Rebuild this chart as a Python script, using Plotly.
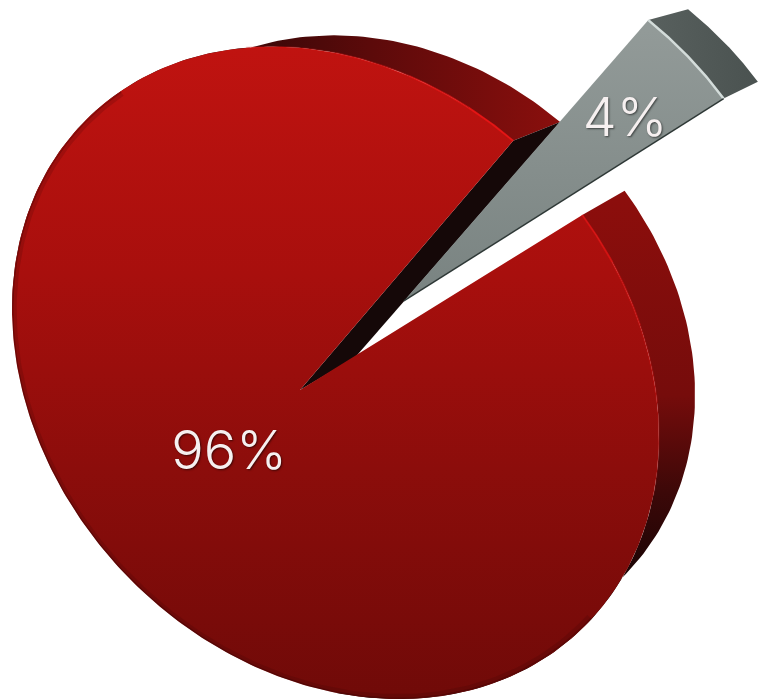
import numpy as np
import plotly.graph_objects as go

# Shares shown on the chart
categories = ["Rest", "Share"]
shares = [96, 4]
labels = ["96%", "4%"]

half_gap = 360.0 * shares[1] / sum(shares) / 2.0

# Calibration of the tilted disc: points along its front rim, its centre,
# the rim point at the upper side of the cut, and the depth vanishing point
rim_x = [240, 167, 133, 100, 67, 40, 22, 13, 12, 15, 33, 67, 100, 133, 167, 200, 233, 283, 340,
         390, 440, 473, 523, 573, 607, 633, 643, 657, 627, 590, 507, 433, 333]
rim_y = [47, 67, 85, 110, 143, 180, 230, 280, 313, 363, 427, 493, 547, 583, 613, 637, 655, 677, 693,
         698, 697, 690, 670, 640, 603, 563, 517, 407, 293, 225, 135, 87, 52]
CENTRE = (300.0, 390.0)
CUT_RIM = (513.0, 141.0)
VANISH = np.array([1166.0, -120.0])
DEPTH = 0.0678
PULL = 0.45


def fit_conic(xs, ys):
    x, y = (np.array(xs, float) - 330) / 330, (np.array(ys, float) - 370) / 330
    A = np.column_stack([x * x, x * y, y * y, x, y, np.ones_like(x)])
    a, b, c, d, e, f = np.linalg.svd(A)[2][-1]
    C = np.array([[a, b / 2, d / 2], [b / 2, c, e / 2], [d / 2, e / 2, f]])
    T = np.array([[1 / 330, 0, -1], [0, 1 / 330, -370 / 330], [0, 0, 1]])
    return T.T @ C @ T


def disc_homography():
    """Homography carrying the unit circle onto the fitted rim, centre onto CENTRE."""
    C = fit_conic(rim_x, rim_y)
    p = np.array([*CENTRE, 1.0])
    if p @ C @ p > 0:
        C = -C
    p = p / np.sqrt(-(p @ C @ p))
    vanishing_line = C @ p
    r = np.array([*CUT_RIM, 1.0])
    e1 = np.cross(np.cross(p, r), vanishing_line)
    e1 = e1 / np.sqrt(e1 @ C @ e1)
    e2 = np.cross(vanishing_line, C @ e1)
    e2 = e2 / np.sqrt(e2 @ C @ e2)
    base = p / p[2]
    if (((p + e1) / (p + e1)[2]) - base)[:2] @ (r - base)[:2] < 0:
        e1 = -e1
    # Rotate so the cut sits symmetrically about the +u axis; +half_gap lands on CUT_RIM
    t = np.radians(half_gap)
    for sign in (1, -1):
        f = sign * e2
        c1 = np.cos(t) * e1 - np.sin(t) * f
        c2 = np.sin(t) * e1 + np.cos(t) * f
        H = np.column_stack([c1, c2, p])
        q = H @ np.array([np.cos(t), -np.sin(t), 1.0])
        q = q[:2] / q[2]
        # The lower side of the cut has to fall to the right of the upper side
        if q[0] > CUT_RIM[0]:
            return H / H[2, 2]
    return H / H[2, 2]


H = disc_homography()


def project(u, v, w=0.0):
    """Project disc coordinates at depth w (0 = front face, 1 = back face)."""
    u, v = np.asarray(u, float), np.asarray(v, float)
    X = H[0, 0] * u + H[0, 1] * v + H[0, 2] + w * DEPTH * VANISH[0]
    Y = H[1, 0] * u + H[1, 1] * v + H[1, 2] + w * DEPTH * VANISH[1]
    W = H[2, 0] * u + H[2, 1] * v + H[2, 2] + w * DEPTH
    return X / W, Y / W


def arc(a0, a1, w=0.0, pull=0.0, n=120, radius=1.0):
    t = np.radians(np.linspace(a0, a1, n))
    return project(radius * np.cos(t) + pull, radius * np.sin(t), w)


def ring(parts):
    xs = np.concatenate([p[0] for p in parts])
    ys = np.concatenate([p[1] for p in parts])
    return xs, ys


def point(u, v, w=0.0):
    x, y = project(u, v, w)
    return np.array([x]), np.array([y])


def patch(fig, xy, gradient=None, color=None):
    kw = dict(fillgradient=gradient) if gradient else dict(fillcolor=color)
    fig.add_trace(go.Scatter(x=xy[0], y=xy[1], mode="lines", fill="toself",
                             line=dict(width=0), hoverinfo="skip", **kw))


def stroke(fig, xy, color, width, opacity=1.0):
    fig.add_trace(go.Scatter(x=xy[0], y=xy[1], mode="lines", opacity=opacity,
                             line=dict(color=color, width=width), hoverinfo="skip"))


fig = go.Figure()

# Side wall of the large slice, upper run and right-hand run
patch(fig, ring([arc(half_gap, 130), arc(130, half_gap, w=1)]),
      gradient=dict(type="horizontal", start=270, stop=560,
                    colorscale=[[0, "#3f0808"], [0.35, "#5c0a0a"], [1, "#8a0f0d"]]))
patch(fig, ring([arc(-half_gap, -130), arc(-130, -half_gap, w=1)]),
      gradient=dict(type="vertical", start=200, stop=590,
                    colorscale=[[0, "#8c0e0c"], [0.5, "#760c0b"], [0.75, "#3c0808"], [1, "#140404"]]))

# Inner wall of the cut, seen in shadow
patch(fig, ring([point(0, 0), arc(half_gap, half_gap, n=1), arc(half_gap, half_gap, w=1, n=1), point(0, 0, 1)]),
      color="#150808")

# Front face of the large slice
patch(fig, ring([point(0, 0), arc(half_gap, 360 - half_gap, n=400)]),
      gradient=dict(type="vertical", start=45, stop=697,
                    colorscale=[[0, "#c01310"], [0.35, "#a80f0d"], [0.65, "#8c0d0b"], [1, "#700a08"]]))

# Dark soft edge just inside the far side of the face
far_side = (half_gap + 70, 360 - half_gap - 70)
stroke(fig, arc(*far_side, n=200, radius=0.99), "#300404", 4, 0.16)
stroke(fig, arc(*far_side, n=200, radius=0.997), "#300404", 1.2, 0.4)

# Lit rim of the front face, fading away from the cut
for a0, a1, op in [(half_gap, half_gap + 8, 0.9), (half_gap + 8, half_gap + 18, 0.65),
                   (half_gap + 18, half_gap + 30, 0.4), (half_gap + 30, half_gap + 45, 0.2)]:
    stroke(fig, arc(a0, a1, n=30), "#e81414", 2, op)
for a0, a1, op in [(-half_gap, -half_gap - 8, 0.85), (-half_gap - 8, -half_gap - 18, 0.55),
                   (-half_gap - 18, -half_gap - 30, 0.3), (-half_gap - 30, -half_gap - 45, 0.15)]:
    stroke(fig, arc(a0, a1, n=30), "#d81212", 2, op)

# Pulled-out small slice: wall, face, edges
patch(fig, ring([arc(half_gap, -half_gap, pull=PULL), arc(-half_gap, half_gap, w=1, pull=PULL)]),
      gradient=dict(type="horizontal", start=640, stop=760,
                    colorscale=[[0, "#59615f"], [1, "#4a5250"]]))
patch(fig, ring([point(PULL, 0), arc(half_gap, -half_gap, pull=PULL)]),
      gradient=dict(type="vertical", start=20, stop=310,
                    colorscale=[[0, "#939b99"], [1, "#788280"]]))
stroke(fig, arc(half_gap, -half_gap, pull=PULL), "#d3dcda", 2.5)
stroke(fig, ring([point(PULL, 0), arc(-half_gap, -half_gap, pull=PULL, n=1)]), "#2e3836", 1.5)

# Percentage labels
text_style = dict(family="Inter", size=54, color="#f6f0f0", weight=300,
                  shadow="1px 1px 2px rgba(0,0,0,0.55)")
fig.add_trace(go.Scatter(x=[229], y=[455], mode="text", text=[labels[0]],
                         textfont=text_style, textposition="middle center", hoverinfo="skip"))
fig.add_trace(go.Scatter(x=[625], y=[122], mode="text", text=[labels[1]],
                         textfont=text_style, textposition="middle center", hoverinfo="skip"))

fig.update_layout(width=760, height=699, margin=dict(l=0, r=0, t=0, b=0),
                  paper_bgcolor="white", plot_bgcolor="white", showlegend=False,
                  xaxis=dict(range=[0, 760], visible=False),
                  yaxis=dict(range=[699, 0], visible=False))
fig.write_html("out.html", config=dict(displayModeBar=False))
